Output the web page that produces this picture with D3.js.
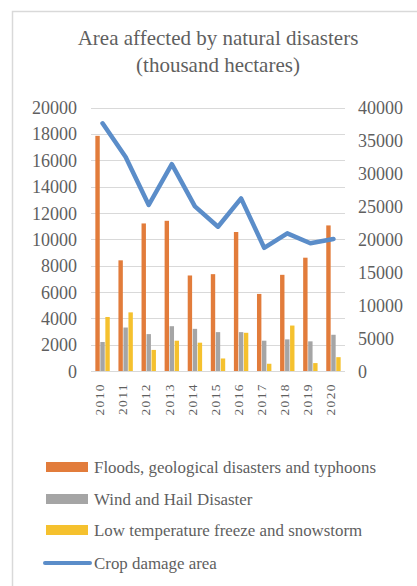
<!DOCTYPE html>
<html><head><meta charset="utf-8">
<script src="https://cdn.jsdelivr.net/npm/d3@7"></script>
<style>
html,body{margin:0;padding:0;background:#fff;}
svg{display:block;font-family:"Liberation Serif","Times New Roman",serif;}
</style></head>
<body><svg id="c" width="417" height="586"></svg>
<script>
const years = ["2010","2011","2012","2013","2014","2015","2016","2017","2018","2019","2020"];
const floods = [17850, 8400, 11200, 11400, 7250, 7350, 10550, 5850, 7300, 8600, 11050];
const windHail = [2200, 3300, 2800, 3400, 3200, 2950, 2950, 2300, 2400, 2250, 2750];
const lowTemp = [4100, 4450, 1600, 2300, 2150, 950, 2900, 550, 3450, 600, 1050];
const cropDamage = [37600, 32500, 25200, 31400, 25000, 21900, 26200, 18700, 20900, 19400, 20050];
const leftTicks = [0,2000,4000,6000,8000,10000,12000,14000,16000,18000,20000];
const rightTicks = [0,5000,10000,15000,20000,25000,30000,35000,40000];
const titleLines = ["Area affected by natural disasters","(thousand hectares)"];
const seriesNames = ["Floods, geological disasters and typhoons","Wind and Hail Disaster","Low temperature freeze and snowstorm","Crop damage area"];
const barSeries = [floods, windHail, lowTemp];
const colors = ["#E27C3B","#A5A5A5","#F5C12E","#5B8DC9"];
const textColor = "#5f5f5f";

const svg = d3.select("#c");
svg.append("rect").attr("x",12.5).attr("y",11.5).attr("width",500).attr("height",700)
  .attr("fill","none").attr("stroke","#d9d9d9").attr("stroke-width",1.5);

const pL = 91, pR = 345, pT = 107.5, pB = 371;
const x = d3.scaleBand().domain(years).range([pL,pR]).paddingInner(0).paddingOuter(0);
const yL = d3.scaleLinear().domain([0,20000]).range([pB, pT]);
const yR = d3.scaleLinear().domain([0,40000]).range([pB, pT]);
const xs = d3.scaleBand().domain([0,1,2]).range([0, 14.4]).paddingInner(0.12);

// title
svg.append("g").selectAll("text").data(titleLines).join("text")
  .attr("x",218).attr("y",(d,i)=>45+i*27).attr("text-anchor","middle")
  .attr("font-size",21).attr("fill",textColor).text(d=>d);

// gridlines
svg.append("g").selectAll("line").data(leftTicks).join("line")
  .attr("x1",pL).attr("x2",pR).attr("y1",d=>Math.round(yL(d))+0.5).attr("y2",d=>Math.round(yL(d))+0.5)
  .attr("stroke","#d9d9d9").attr("stroke-width",1);

// left axis
const ga = svg.append("g").attr("transform",`translate(${pL-14},0)`)
  .call(d3.axisLeft(yL).tickValues(leftTicks).tickSize(0).tickPadding(0).tickFormat(d3.format("d")));
ga.select(".domain").remove();
ga.selectAll("text").attr("font-size",18).attr("fill",textColor).attr("font-family","Liberation Serif").attr("dy","0.34em");

// right axis
const gr = svg.append("g").attr("transform",`translate(${pR+13},0)`)
  .call(d3.axisRight(yR).tickValues(rightTicks).tickSize(0).tickPadding(0).tickFormat(d3.format("d")));
gr.select(".domain").remove();
gr.selectAll("text").attr("font-size",18).attr("fill",textColor).attr("font-family","Liberation Serif").attr("dy","0.34em");

// bottom axis
const gb = svg.append("g").attr("transform",`translate(0,${pB})`)
  .call(d3.axisBottom(x).tickSize(0).tickPadding(0));
gb.select(".domain").remove();
gb.selectAll("text").attr("font-size",13.5).attr("fill",textColor).attr("font-family","Liberation Serif")
  .attr("letter-spacing","1.4px")
  .attr("text-anchor","end").attr("transform","rotate(-90)").attr("x",-12).attr("y",-3).attr("dy","0.35em");

// bars
const bx0 = d => x(d) + (x.bandwidth()-14.4)/2;
barSeries.forEach((s,si)=>{
  svg.append("g").selectAll("rect").data(years).join("rect")
    .attr("x",(d)=>bx0(d)+xs(si)).attr("width",xs.bandwidth())
    .attr("y",(d,i)=>yL(s[i])).attr("height",(d,i)=>pB-yL(s[i]))
    .attr("fill",colors[si]);
});

// line
const line = d3.line().x((d,i)=>x(years[i])+x.bandwidth()/2).y(d=>yR(d));
svg.append("path").datum(cropDamage).attr("d",line).attr("fill","none")
  .attr("stroke",colors[3]).attr("stroke-width",4.5).attr("stroke-linejoin","round").attr("stroke-linecap","round");

// legend
const lg = svg.append("g");
const rows = [467,499,530,563];
seriesNames.forEach((n,i)=>{
  if(i<3){
    lg.append("rect").attr("x",46).attr("y",rows[i]-5).attr("width",42).attr("height",10).attr("fill",colors[i]);
  } else {
    lg.append("line").attr("x1",45).attr("x2",90).attr("y1",rows[i]).attr("y2",rows[i])
      .attr("stroke",colors[i]).attr("stroke-width",4).attr("stroke-linecap","round");
  }
  lg.append("text").attr("x",94).attr("y",rows[i]).attr("dy","0.33em").attr("font-size",16.9)
    .attr("fill",textColor).text(n);
});
</script></body></html>
